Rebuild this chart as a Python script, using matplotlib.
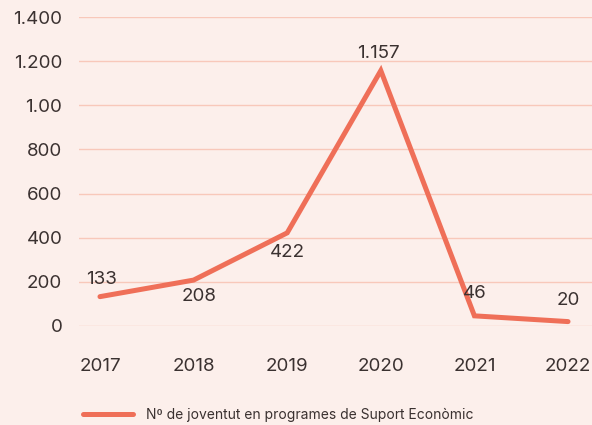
import matplotlib
matplotlib.use("Agg")
import matplotlib.pyplot as plt

years = ["2017", "2018", "2019", "2020", "2021", "2022"]
joves = [133, 208, 422, 1157, 46, 20]
value_labels = ["133", "208", "422", "1.157", "46", "20"]
ytick_vals = [0, 200, 400, 600, 800, 1000, 1200, 1400]
ytick_labels = ["0", "200", "400", "600", "800", "1.00", "1.200", "1.400"]

BG = "#fcefeb"
LINE = "#ef6f58"
GRID = "#f8c8ba"
TEXT = "#3a3130"

plt.rcParams["font.family"] = ["Inter", "DejaVu Sans"]

fig = plt.figure(figsize=(5.92, 4.25), dpi=100, facecolor=BG)
ax = fig.add_axes([79 / 592, (425 - 326) / 425, 513 / 592, 309 / 425])
ax.set_facecolor(BG)

x = list(range(len(years)))
ax.plot(x, joves, color=LINE, lw=3.6, solid_capstyle="round",
        solid_joinstyle="miter", clip_on=False, zorder=3,
        label="Nº de joventut en programes de Suport Econòmic")

# label offsets in points (dx, dy)
offsets = [(1, 12), (4, -12), (0, -14), (-2, 12), (0, 16), (0, 15)]
for xi, v, lab, (dx, dy) in zip(x, joves, value_labels, offsets):
    ax.annotate(lab, (xi, v), xytext=(dx, dy), textcoords="offset points",
                ha="center", va="center", fontsize=13.5, color=TEXT, zorder=4)

ax.set_xlim(-0.224, 5.256)
ax.set_ylim(0, 1400)
ax.set_xticks(x)
ax.set_xticklabels(years)
ax.set_yticks(ytick_vals)
ax.set_yticklabels(ytick_labels)
ax.tick_params(axis="both", length=0, labelsize=13.5, labelcolor=TEXT)
ax.tick_params(axis="x", pad=23)
ax.tick_params(axis="y", pad=12)
ax.grid(axis="y", color=GRID, lw=1)
ax.set_axisbelow(True)
for s in ax.spines.values():
    s.set_visible(False)

fig.legend(loc="lower left", bbox_to_anchor=(70 / 592, -0.022), frameon=False,
           fontsize=10, labelcolor=TEXT, handlelength=3.6, handletextpad=1.0)

fig.savefig("out.png", dpi=100, facecolor=BG)
